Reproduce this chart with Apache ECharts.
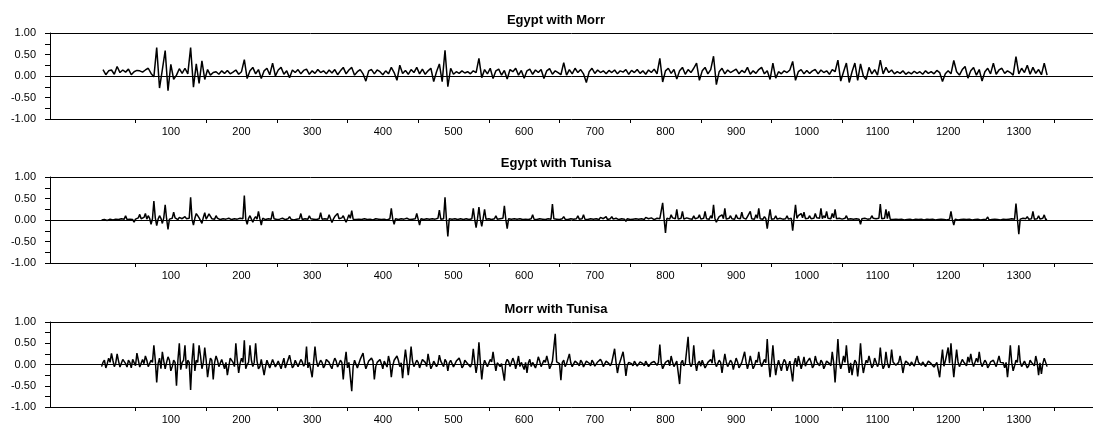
<!DOCTYPE html>
<html><head><meta charset="utf-8">
<script src="https://cdn.jsdelivr.net/npm/echarts@6/dist/echarts.min.js"></script>
<style>html,body{margin:0;padding:0;background:#fff}#c{width:1093px;height:425px}</style>
</head><body><div id="c"></div>
<script>
const titles = ['Egypt with Morr', 'Egypt with Tunisa', 'Morr with Tunisa'];
// observation numbering of each series: start and step
const obsStarts = [4, 2, 2];
const obsSteps = [4, 2, 2];
const egyptMorr = [
0.15,0.03,0.12,0.14,0.04,0.22,0.08,0.14,0.09,0.16,
0.03,0.10,0.13,0.12,0.09,0.14,0.18,0.06,-0.02,0.66,
-0.28,0.15,0.59,-0.34,0.27,-0.08,0.02,0.17,0.06,0.18,
0.05,0.66,-0.26,0.28,-0.17,0.35,-0.08,0.15,0.02,0.08,
0.10,0.04,0.12,0.06,0.13,0.05,0.09,0.14,0.04,0.10,
0.38,-0.06,0.12,0.20,0.05,0.15,-0.06,0.12,0.18,0.03,
0.30,0.00,0.14,0.20,0.04,0.12,-0.04,0.14,0.08,0.15,
0.05,0.13,0.16,0.04,0.12,0.06,0.15,0.08,0.12,0.05,
0.14,0.07,0.15,0.03,0.12,0.20,0.05,0.14,0.20,0.02,
0.10,0.15,0.05,-0.12,0.12,0.15,0.05,0.14,0.10,0.03,
0.12,0.05,0.20,0.08,-0.10,0.25,0.06,0.13,0.04,0.15,
0.08,0.20,0.05,0.16,0.04,0.12,0.18,-0.13,0.10,0.28,
-0.13,0.60,-0.25,0.18,0.04,0.10,0.06,0.12,0.07,0.10,
0.05,0.12,0.08,0.41,-0.04,0.15,0.05,0.18,-0.06,0.12,
0.16,0.02,0.13,-0.07,0.15,0.10,0.18,0.02,0.13,-0.05,
0.12,0.16,0.04,0.14,0.08,0.15,-0.06,0.12,0.17,0.04,
0.12,0.08,0.03,0.31,0.02,0.15,0.05,0.18,0.08,0.15,
0.05,-0.15,0.10,0.18,0.06,0.14,0.08,0.12,0.05,0.13,
0.08,0.14,0.05,0.12,0.09,0.15,0.04,0.13,0.08,0.15,
0.06,0.12,0.04,0.14,0.08,0.16,0.05,0.41,-0.14,0.12,
0.18,0.06,0.15,-0.07,0.12,0.20,0.04,0.15,0.08,0.18,
0.30,-0.10,0.12,0.20,0.05,0.15,0.46,-0.20,0.10,0.18,
0.05,0.14,0.08,0.12,0.16,0.05,0.13,0.08,0.20,0.04,
0.12,0.06,0.15,0.20,0.05,0.12,-0.08,0.30,-0.05,0.10,
0.05,0.12,0.08,0.14,0.34,-0.10,0.10,0.15,0.05,0.13,
0.06,0.12,0.15,0.05,0.14,0.08,0.12,0.04,0.15,0.10,
0.37,-0.12,0.10,0.30,-0.15,0.10,0.30,-0.10,0.28,0.00,
-0.08,0.20,0.05,0.15,0.02,0.37,0.05,0.20,0.08,0.14,
0.05,0.10,0.06,0.12,0.04,0.09,0.05,0.11,0.06,0.10,
0.04,0.12,0.06,0.10,0.05,0.13,0.08,-0.13,0.05,0.12,
0.05,0.36,0.10,0.02,0.15,0.22,-0.05,0.12,0.20,0.02,
0.15,-0.12,0.10,0.18,0.05,0.30,0.04,0.14,0.18,0.06,
0.12,0.08,0.02,0.45,0.05,0.18,0.08,0.25,0.04,0.20,
0.06,0.15,0.03,0.30,0.02
];
const egyptTunisa = [
0.00,0.02,0.01,-0.03,-0.01,0.03,0.02,-0.02,0.00,0.04,0.02,-0.01,0.01,0.05,0.03,0.00,0.02,0.10,0.01,-0.03,
0.02,0.03,0.01,-0.05,0.02,0.04,0.05,0.13,0.03,0.02,0.06,0.15,0.02,0.10,0.04,-0.10,0.03,0.44,0.05,-0.13,
0.02,0.10,0.04,-0.08,0.05,0.35,0.03,-0.22,0.02,0.06,0.04,0.18,0.05,0.02,0.01,0.06,0.04,0.03,0.02,0.08,
0.03,0.02,0.04,0.53,0.02,-0.12,0.04,0.15,0.10,0.05,0.03,-0.08,0.06,0.17,0.02,0.08,0.14,0.12,0.03,0.04,
0.02,0.10,0.04,0.02,0.01,0.04,0.03,0.01,0.02,0.05,0.04,0.02,0.01,0.04,0.03,0.00,0.02,0.03,0.04,0.02,
0.03,0.57,0.02,-0.10,0.04,0.10,0.02,-0.05,0.03,0.08,0.02,0.20,0.03,-0.12,0.04,0.03,0.01,0.05,0.03,0.01,
0.02,0.20,0.03,0.02,0.01,0.04,0.02,0.00,0.04,0.03,0.01,0.02,0.03,0.08,0.02,0.02,0.00,0.04,0.02,0.01,
0.03,0.15,0.01,0.02,0.03,0.05,0.02,0.10,0.03,0.00,0.02,0.03,0.01,0.04,0.03,0.17,0.02,0.01,0.03,0.05,
0.02,0.12,0.03,-0.06,0.02,0.08,0.04,0.15,0.03,0.02,0.05,0.10,0.02,-0.05,0.03,0.12,0.04,0.22,0.02,0.01,
0.01,0.03,0.02,0.00,0.01,0.02,0.03,0.04,0.01,-0.01,0.02,0.03,0.00,0.02,0.03,0.01,0.02,0.04,0.01,0.02,
0.02,0.03,0.00,0.01,0.03,0.27,0.02,-0.10,0.03,0.05,0.01,0.02,0.03,0.04,0.02,0.00,0.04,0.06,0.01,0.03,
0.02,0.02,0.03,0.15,0.02,-0.12,0.03,0.04,0.01,0.02,0.03,0.06,0.02,0.05,0.03,0.01,0.02,0.03,0.04,0.23,
0.02,0.05,0.03,0.53,0.02,-0.38,0.03,0.04,0.02,0.01,0.03,0.03,0.01,0.00,0.03,0.04,0.01,0.02,0.03,0.05,
0.01,0.02,0.03,0.27,0.02,-0.18,0.03,0.30,0.02,-0.15,0.04,0.25,0.02,0.03,0.03,0.06,0.01,0.02,0.03,0.10,
0.02,0.04,0.03,0.02,0.04,0.33,0.02,-0.20,0.03,0.05,0.02,0.03,0.03,0.06,0.02,0.01,0.03,0.04,0.01,0.02,
0.02,0.05,0.01,0.03,0.03,0.12,0.02,0.02,0.01,0.04,0.03,0.01,0.02,0.05,0.01,0.03,0.03,0.02,0.02,0.37,
0.03,0.01,0.02,0.04,0.01,0.02,0.03,0.08,0.02,0.03,0.01,0.00,0.03,0.05,0.02,0.02,0.03,0.10,0.02,0.01,
0.03,0.12,0.02,0.03,0.01,0.05,0.03,0.01,0.02,0.04,0.03,0.02,0.01,0.06,0.02,0.03,0.03,0.08,0.01,0.02,
0.03,0.08,0.02,0.03,0.04,0.05,0.01,0.02,0.03,0.06,0.02,-0.03,0.03,0.04,0.01,0.03,0.02,0.05,0.03,0.02,
0.02,0.04,0.03,0.02,0.01,0.06,0.02,0.03,0.04,0.05,0.02,0.01,0.03,0.04,0.02,0.03,0.05,0.40,0.03,-0.30,
0.04,0.05,0.02,0.12,0.05,0.04,0.03,0.25,0.02,0.06,0.04,0.20,0.02,0.03,0.05,0.08,0.03,0.02,0.02,0.10,
0.03,0.04,0.05,0.12,0.02,0.05,0.04,0.20,0.03,0.06,0.02,0.10,0.04,0.35,0.03,-0.05,0.02,0.08,0.04,0.12,
0.03,0.27,0.02,0.05,0.04,0.10,0.03,0.04,0.02,0.12,0.04,0.06,0.03,0.18,0.05,0.03,0.02,0.08,0.04,0.20,
0.03,0.05,0.02,0.12,0.04,0.27,0.03,0.04,0.02,0.08,0.03,-0.20,0.04,0.25,0.02,0.05,0.03,0.10,0.02,0.04,
0.04,0.08,0.02,0.05,0.03,0.10,0.02,0.03,0.04,-0.25,0.05,0.35,0.04,0.10,0.06,0.15,0.05,0.18,0.03,0.06,
0.04,0.10,0.03,0.05,0.04,0.15,0.05,0.08,0.04,0.27,0.03,0.10,0.05,0.20,0.04,0.06,0.03,0.15,0.05,0.25,
0.03,0.05,0.04,0.08,0.02,0.03,0.04,0.10,0.02,0.05,0.03,0.07,0.02,0.02,0.03,0.06,0.02,-0.10,0.03,0.05,
0.04,0.08,0.02,0.03,0.03,0.10,0.04,0.05,0.03,0.02,0.04,0.37,0.03,0.05,0.04,0.25,0.03,0.20,0.02,0.03,
0.01,0.02,0.02,0.00,0.01,0.03,0.02,0.01,0.00,0.02,0.01,-0.01,0.02,0.03,0.00,0.01,0.02,0.00,0.01,0.02,
0.02,0.01,0.00,0.03,0.02,0.00,0.01,0.02,0.02,0.01,0.00,-0.02,0.01,0.03,0.02,0.01,0.01,0.04,0.00,0.02,
0.02,0.20,0.01,-0.12,0.02,0.03,0.00,0.01,0.01,0.02,0.02,0.00,0.01,0.04,0.02,0.01,0.00,0.02,0.01,0.00,
0.02,0.01,0.00,0.03,0.01,0.00,0.02,0.07,0.00,0.01,0.01,0.02,0.02,0.00,0.01,0.03,0.00,0.01,0.02,0.02,
0.01,0.03,0.02,0.01,0.03,0.05,0.02,0.38,0.03,-0.33,0.02,0.06,0.04,0.02,0.03,0.08,0.02,0.04,0.03,0.20,
0.02,0.05,0.03,0.10,0.02,0.03,0.04,0.12,0.01,0.02
];
const morrTunisa = [
-0.05,0.05,0.10,-0.08,0.02,0.15,0.05,0.26,0.10,-0.05,0.03,0.25,0.08,-0.06,-0.03,0.12,0.08,0.02,-0.06,0.10,
0.05,-0.08,0.12,0.08,-0.03,0.27,0.10,-0.06,-0.05,0.12,0.02,0.20,0.10,-0.05,-0.08,0.10,0.05,0.45,0.10,-0.42,
0.02,0.15,-0.10,0.30,0.08,-0.10,0.05,0.18,0.10,-0.15,-0.05,0.10,0.05,-0.50,0.10,0.50,-0.12,0.05,0.10,0.45,
-0.10,0.10,0.05,-0.60,0.10,0.50,-0.15,0.10,0.05,0.45,0.20,-0.10,0.05,0.40,0.10,-0.30,-0.05,0.15,0.10,-0.35,
0.05,0.20,0.10,-0.05,-0.08,0.12,0.08,-0.10,0.05,-0.25,-0.05,0.15,0.12,0.05,-0.05,0.50,0.10,-0.20,0.02,0.15,
0.05,0.57,-0.10,0.00,0.05,0.45,0.10,-0.05,0.05,0.50,0.08,-0.10,-0.05,0.12,0.10,-0.25,-0.05,0.10,0.08,-0.08,
0.02,0.12,0.08,-0.06,-0.04,0.08,0.05,-0.10,0.03,0.15,-0.08,0.02,0.05,0.22,0.06,-0.08,-0.03,0.10,0.08,-0.05,
-0.05,0.12,0.06,-0.04,0.02,0.42,-0.08,0.05,0.08,-0.30,0.05,0.42,0.10,-0.05,-0.04,0.10,0.05,-0.08,-0.02,0.12,
0.08,0.05,-0.04,-0.10,0.05,0.15,0.08,-0.06,-0.05,0.10,0.05,-0.35,0.04,0.30,-0.08,0.05,0.06,-0.63,-0.05,0.10,
0.06,-0.08,-0.04,0.12,0.08,0.27,0.04,-0.10,-0.06,0.08,0.05,0.15,0.08,-0.35,-0.05,0.05,0.08,0.12,0.02,-0.10,
0.08,0.05,-0.06,0.20,0.05,-0.30,-0.04,0.10,0.06,0.20,0.10,-0.05,0.04,-0.32,0.05,0.35,0.08,-0.25,0.04,0.42,
0.08,-0.05,-0.03,0.10,0.05,-0.08,-0.04,0.12,0.08,0.05,-0.05,0.25,0.06,-0.10,-0.03,0.08,0.06,-0.05,0.02,0.22,
0.08,0.05,-0.05,0.12,0.06,-0.15,0.04,0.10,0.08,-0.06,-0.03,0.08,0.05,0.15,0.06,-0.08,-0.03,0.10,0.06,0.02,
0.05,-0.06,0.03,0.37,0.05,-0.20,0.02,0.52,0.05,-0.35,-0.04,0.10,0.08,-0.05,-0.03,0.12,0.06,0.30,0.05,-0.15,
0.04,0.08,-0.05,0.02,0.06,-0.38,0.04,0.12,0.07,-0.05,-0.03,0.15,0.06,-0.10,0.03,0.20,-0.05,0.05,0.06,-0.12,
0.05,-0.20,0.04,0.12,-0.05,0.05,0.06,-0.08,0.02,0.18,0.08,-0.05,-0.04,0.10,0.05,0.20,0.06,-0.10,-0.02,0.08,
0.04,0.72,0.06,0.05,0.02,-0.37,0.05,0.10,-0.05,0.02,0.06,0.25,0.04,-0.05,-0.02,0.08,0.06,0.02,-0.03,0.10,
0.05,-0.06,-0.02,0.08,0.06,0.03,-0.03,0.10,0.05,-0.04,-0.02,0.06,0.04,0.12,0.06,-0.05,-0.02,0.08,0.05,0.02,
-0.03,0.05,0.04,0.37,0.05,-0.20,-0.02,0.08,0.04,0.30,0.05,-0.27,-0.02,0.05,0.06,0.02,-0.03,0.08,0.05,-0.04,
-0.02,0.06,0.05,0.02,-0.03,0.08,0.05,-0.05,-0.02,0.04,0.06,0.07,0.03,-0.02,0.05,0.47,0.04,-0.10,-0.02,0.05,
0.04,0.10,-0.03,0.20,0.06,-0.05,-0.02,0.08,0.05,-0.46,0.04,0.10,-0.03,0.02,0.05,0.65,0.06,-0.05,0.02,0.45,
0.05,-0.15,0.03,0.08,-0.04,0.10,0.06,-0.08,-0.02,0.05,0.06,0.12,0.03,0.35,0.06,-0.05,-0.03,0.10,0.05,-0.20,
0.03,0.25,0.06,-0.05,-0.02,0.10,0.05,-0.12,0.02,0.15,0.06,-0.08,-0.02,0.05,0.04,0.30,0.06,-0.10,0.02,0.20,
0.05,-0.10,-0.03,0.10,0.05,0.30,0.06,-0.05,-0.02,0.12,0.04,0.60,0.05,-0.30,0.03,0.45,0.05,-0.25,-0.04,0.10,
0.06,-0.15,0.02,0.12,0.06,-0.15,-0.03,0.08,0.05,-0.40,0.03,0.15,-0.05,0.20,0.06,-0.10,0.02,0.18,-0.04,0.05,
0.04,0.15,0.06,-0.08,-0.02,0.20,0.06,0.05,-0.03,0.10,0.05,-0.10,-0.02,0.08,0.05,0.02,-0.03,0.30,0.04,-0.42,
0.05,0.60,0.06,-0.10,0.02,0.20,0.05,0.45,0.06,-0.20,0.04,-0.25,-0.03,0.10,0.05,-0.28,0.03,0.50,0.05,-0.20,
-0.03,0.10,0.04,0.20,0.06,-0.08,-0.02,0.15,0.06,-0.05,0.03,0.40,0.05,-0.10,-0.02,0.30,0.05,-0.08,0.02,0.35,
0.06,0.05,-0.02,-0.05,0.05,0.20,0.04,-0.20,-0.02,0.08,0.05,0.02,-0.03,0.06,0.05,-0.04,-0.02,0.20,0.05,0.03,
-0.02,0.06,0.05,-0.05,-0.02,0.08,0.05,0.02,0.03,-0.06,-0.02,0.05,0.04,-0.30,0.05,0.35,-0.04,0.08,0.05,0.40,
0.03,0.50,0.05,-0.30,0.04,0.35,0.06,-0.05,-0.02,0.12,0.06,0.05,-0.03,0.18,0.05,0.25,0.06,-0.05,-0.02,0.15,
0.05,0.30,0.06,-0.05,-0.02,0.10,0.05,-0.08,-0.02,0.06,0.04,0.10,0.06,-0.05,-0.02,0.20,0.05,0.02,0.04,-0.08,
0.05,-0.30,0.03,0.45,0.05,-0.15,-0.03,0.10,0.05,0.45,0.06,-0.05,-0.02,0.08,0.05,-0.08,-0.03,0.10,0.05,0.02,
-0.03,0.20,0.05,-0.25,0.04,-0.22,0.02,0.15,0.05,-0.05
];
const xLabelValues = [100,200,300,400,500,600,700,800,900,1000,1100,1200,1300];
const xTickValues = [50,150,250,350,450,550,650,750,850,950,1050,1150,1250,1350];
const yLabelValues = [-1, -0.5, 0, 0.5, 1];

const seriesValues = [egyptMorr, egyptTunisa, morrTunisa];
const lineWidths = [1.5, 1.5, 1.5];
const FONT = '"Liberation Sans", Arial, sans-serif';
const gridTops = [33, 177, 322];
const titleY = [20, 163.5, 309];
const chart = echarts.init(document.getElementById('c'), null, {renderer: 'canvas'});

const grids = [], xAxes = [], yAxes = [], series = [], titleOpts = [];
seriesValues.forEach((vals, i) => {
  grids.push({left: 50, right: 0, top: gridTops[i], height: 86, containLabel: false});
  xAxes.push({
    type: 'value', gridIndex: i, min: -71, max: 1405, position: 'bottom',
    axisLine: {show: true, onZero: false, lineStyle: {color: '#000', width: 1}},
    axisTick: {show: true, customValues: xTickValues, length: 4, lineStyle: {color: '#000'}},
    axisLabel: {show: true, customValues: xLabelValues, margin: 7, fontSize: 11, color: '#000', fontFamily: FONT,
      formatter: v => String(v)},
    splitLine: {show: false}
  });
  xAxes.push({
    type: 'value', gridIndex: i, min: -71, max: 1405, position: 'top',
    axisLine: {show: true, onZero: false, lineStyle: {color: '#000', width: 1}},
    axisTick: {show: false}, axisLabel: {show: false}, splitLine: {show: false}
  });
  yAxes.push({
    type: 'value', gridIndex: i, min: -1, max: 1, interval: 0.25, position: 'left',
    axisLine: {show: true, onZero: false, lineStyle: {color: '#000', width: 1}},
    axisTick: {show: true, length: 5, lineStyle: {color: '#000'}},
    axisLabel: {show: true, customValues: yLabelValues, margin: 14, fontSize: 11, color: '#000', fontFamily: FONT,
      formatter: v => v.toFixed(2)},
    splitLine: {show: false}
  });
  series.push({
    type: 'line', xAxisIndex: i * 2, yAxisIndex: i, showSymbol: false, animation: false,
    data: vals.map((v, k) => [obsStarts[i] + k * obsSteps[i], v]),
    lineStyle: {color: '#000', width: lineWidths[i]}, itemStyle: {color: '#000'},
    markLine: {silent: true, symbol: 'none', animation: false, label: {show: false},
      lineStyle: {color: '#000', width: 1, type: 'solid'}, data: [{yAxis: 0}]}
  });
  titleOpts.push({text: titles[i], left: 556, top: titleY[i], textAlign: 'center', textVerticalAlign: 'middle', padding: 0,
    textStyle: {fontSize: 13, fontWeight: 'bold', color: '#000', fontFamily: FONT}});
});

chart.setOption({
  animation: false,
  backgroundColor: '#fff',
  title: titleOpts,
  grid: grids, xAxis: xAxes, yAxis: yAxes, series: series
});
</script></body></html>
